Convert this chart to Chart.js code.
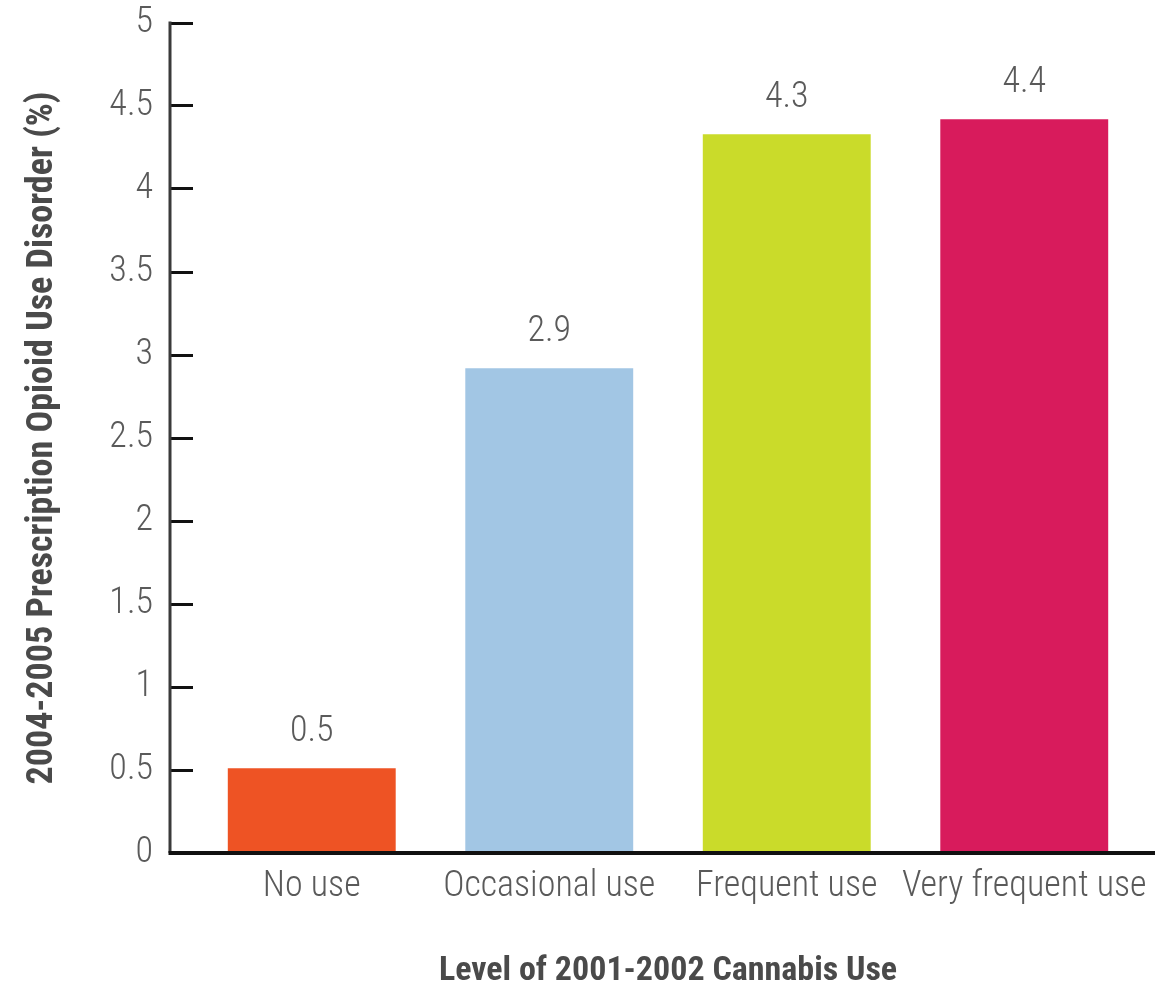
<!DOCTYPE html>
<html>
<head>
<meta charset="utf-8">
<script src="https://cdn.jsdelivr.net/npm/chart.js@4"></script>
<style>
  body { margin: 0; background: #fff; }
  canvas { display: block; }
</style>
</head>
<body>
<canvas id="chart" width="1155" height="994"></canvas>
<script>
const categories = ['No use', 'Occasional use', 'Frequent use', 'Very frequent use']
const values = [0.51, 2.92, 4.33, 4.42]
const value_labels = ['0.5', '2.9', '4.3', '4.4']
const bar_colors = ['#ee5324', '#a2c6e4', '#cadb2a', '#d81b5c']
const y_ticks = [0, 0.5, 1, 1.5, 2, 2.5, 3, 3.5, 4, 4.5, 5]

const narrow = "Roboto, 'DejaVu Sans Condensed', sans-serif"
const text_color = '#5a5a5a'
const tick_len = 23

// axis lines: the y line sits left of the chart area, ticks point inwards
const axisLines = {
	id: 'axisLines',
	afterDraw(chart) {
		const ctx = chart.ctx
		const area = chart.chartArea
		const y = chart.scales.y
		const x0 = area.left - tick_len
		ctx.save()
		ctx.strokeStyle = '#3a3a3a'
		ctx.lineWidth = 3
		ctx.beginPath()
		ctx.moveTo(x0, y.getPixelForValue(5) - 1.5)
		ctx.lineTo(x0, y.getPixelForValue(0))
		ctx.stroke()
		ctx.strokeStyle = '#111'
		ctx.lineWidth = 4
		ctx.beginPath()
		ctx.moveTo(x0 - 1.5, y.getPixelForValue(0))
		ctx.lineTo(chart.width, y.getPixelForValue(0))
		ctx.stroke()
		ctx.restore()
	}
}

// value labels above bars
const barLabels = {
	id: 'barLabels',
	afterDatasetsDraw(chart) {
		const ctx = chart.ctx
		const meta = chart.getDatasetMeta(0)
		ctx.save()
		ctx.font = '300 condensed 36px ' + narrow
		ctx.fillStyle = text_color
		ctx.textAlign = 'center'
		ctx.textBaseline = 'bottom'
		meta.data.forEach((bar, i) => {
			ctx.fillText(value_labels[i], bar.x, bar.y - 18)
		})
		ctx.restore()
	}
}

const chart = new Chart(
	document.getElementById('chart'),
	{
		type: 'bar',
		data: {
			labels: categories,
			datasets: [
				{
					data: values,
					backgroundColor: bar_colors,
					categoryPercentage: 1.0,
					barPercentage: 0.707,
				}
			]
		},
		plugins: [axisLines, barLabels],
		options: {
			responsive: false,
			devicePixelRatio: 1,
			animation: false,
			layout: { padding: { top: 23, right: 12, left: 0, bottom: 0 } },
			plugins: {
				legend: { display: false },
				tooltip: { enabled: false },
			},
			scales: {
				x: {
					grid: { display: false, drawTicks: false },
					border: { display: false },
					ticks: {
						color: text_color,
						font: { family: narrow, size: 36, weight: '300 condensed' },
						padding: 12,
						maxRotation: 0,
						autoSkip: false,
					},
					title: {
						display: true,
						text: 'Level of 2001-2002 Cannabis Use',
						color: '#4a4a4a',
						font: { family: narrow, size: 34, weight: 'bold condensed' },
						padding: { top: 0, bottom: 2 },
					},
					afterFit: scale => {
						scale.height = 994 - 853
						scale.paddingLeft = 0
						scale.paddingRight = 0
					},
				},
				y: {
					min: 0,
					max: 5,
					afterBuildTicks: scale => { scale.ticks = y_ticks.map(v => ({ value: v })) },
					grid: {
						drawOnChartArea: false,
						drawTicks: true,
						tickLength: tick_len,
						color: '#111',
						lineWidth: 3,
					},
					border: { display: false },
					ticks: {
						color: text_color,
						font: { family: narrow, size: 36, weight: '300 condensed' },
						padding: 17,
						callback: v => String(v),
					},
					title: {
						display: true,
						text: '2004-2005 Prescription Opioid Use Disorder (%)',
						color: '#4a4a4a',
						font: { family: narrow, size: 36, weight: 'bold condensed' },
						padding: { top: 21, bottom: 0 },
					},
					afterFit: scale => {
						scale.width = 193
						scale.paddingTop = 0
						scale.paddingBottom = 0
					},
				}
			}
		}
	}
)
</script>
</body>
</html>
